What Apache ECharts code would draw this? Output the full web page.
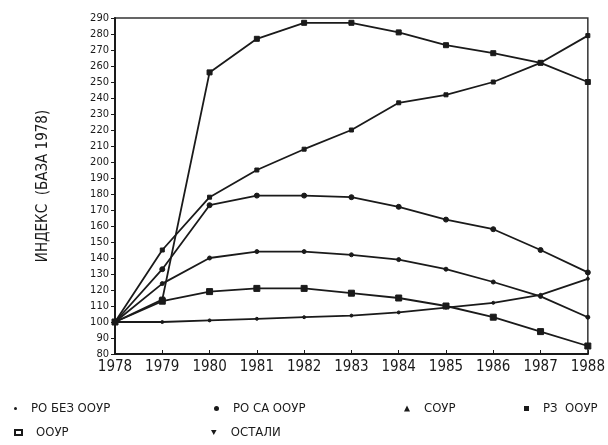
<!DOCTYPE html>
<html>
<head>
<meta charset="utf-8">
<script src="https://cdn.jsdelivr.net/npm/echarts@6/dist/echarts.min.js"></script>
<style>
  html, body { margin: 0; padding: 0; background: #fff; }
  #chart { width: 608px; height: 445px; }
</style>
</head>
<body>
<div id="chart"></div>
<script>
// years on the x axis
var years = ['1978', '1979', '1980', '1981', '1982', '1983', '1984', '1985', '1986', '1987', '1988'];

// index values (1978 = 100)
var roBezOour = [100, 100, 101, 102, 103, 104, 106, 109, 112, 117, 127];
var roSaOour  = [100, 133, 173, 179, 179, 178, 172, 164, 158, 145, 131];
var sour      = [100, 114, 256, 277, 287, 287, 281, 273, 268, 262, 250];
var rzOour    = [100, 145, 178, 195, 208, 220, 237, 242, 250, 262, 279];
var oour      = [100, 113, 119, 121, 121, 118, 115, 110, 103, 94, 85];
var ostali    = [100, 124, 140, 144, 144, 142, 139, 133, 125, 116, 103];

var names = ['РО БЕЗ ООУР', 'РО СА ООУР', 'СОУР', 'РЗ  ООУР', 'ООУР', 'ОСТАЛИ'];

var FONT = "'Liberation Sans Narrow', 'DejaVu Sans Condensed', sans-serif";
var INK = '#1a1a1a';
var downTri = 'path://M0,0 L10,0 L5,9 Z';

function mkSeries(name, data, symbol, size) {
    return {
        name: name,
        type: 'line',
        data: data,
        symbol: symbol,
        symbolSize: size,
        showSymbol: true,
        lineStyle: { color: INK, width: 1.8 },
        itemStyle: { color: INK, borderColor: INK },
        emphasis: { disabled: true },
        animation: false
    };
}

// one small legend per entry so they sit where the original has them
function mkLegend(name, icon, left, top, w, h) {
    return {
        data: [{ name: name, icon: icon }],
        left: left,
        top: top,
        itemWidth: w,
        itemHeight: h,
        selectedMode: false,
        textStyle: { fontFamily: FONT, fontSize: 13, color: INK, padding: [0, 0, 0, 9] }
    };
}

var option = {
    backgroundColor: '#fff',
    grid: {
        left: 115, right: 13, top: 18, bottom: 91,
        show: true, borderColor: '#333', borderWidth: 1.5
    },
    legend: [
        mkLegend(names[0], 'circle', 9, 397, 3, 3),
        mkLegend(names[1], 'circle', 209, 397, 5, 5),
        mkLegend(names[2], 'triangle', 399, 397, 6, 6),
        mkLegend(names[3], 'rect', 519, 397, 5, 5),
        mkLegend(names[4], 'emptyRect', 9, 421, 7, 5),
        mkLegend(names[5], downTri, 206, 421, 6, 5)
    ],
    xAxis: {
        type: 'category',
        data: years,
        boundaryGap: false,
        axisLine: { lineStyle: { color: INK, width: 2 } },
        axisTick: { inside: true, length: 4, lineStyle: { color: INK } },
        axisLabel: { fontFamily: FONT, fontSize: 15, color: INK, margin: 6 },
        splitLine: { show: false }
    },
    yAxis: {
        type: 'value',
        min: 80,
        max: 290,
        interval: 10,
        name: 'ИНДЕКС  (БАЗА 1978)',
        nameLocation: 'middle',
        nameGap: 64,
        nameTextStyle: { fontFamily: FONT, fontSize: 15, color: INK },
        axisLine: { show: true, lineStyle: { color: INK, width: 2 } },
        axisTick: { show: true, length: 4, lineStyle: { color: INK } },
        axisLabel: { fontFamily: FONT, fontSize: 11, color: INK, margin: 6 },
        splitLine: { show: false }
    },
    series: [
        mkSeries(names[0], roBezOour, 'circle', 3),
        mkSeries(names[1], roSaOour, 'circle', 5),
        mkSeries(names[2], sour, 'rect', 5),
        mkSeries(names[3], rzOour, 'rect', 4),
        mkSeries(names[4], oour, 'rect', 6),
        mkSeries(names[5], ostali, 'circle', 4)
    ]
};

var myChart = echarts.init(document.getElementById('chart'));
myChart.setOption(option);
</script>
</body>
</html>
